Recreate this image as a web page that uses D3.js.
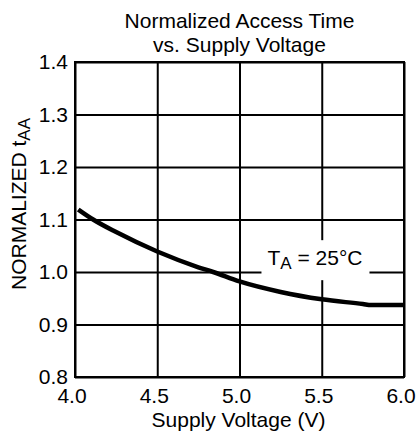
<!DOCTYPE html>
<html>
<head>
<meta charset="utf-8">
<script src="https://cdn.jsdelivr.net/npm/d3@7"></script>
<style>
  html, body { margin: 0; padding: 0; background: #fff; }
  svg { display: block; }
  text { font-family: "Liberation Sans", Arial, sans-serif; fill: #000; }
</style>
</head>
<body>
<svg id="chart" width="416" height="436"></svg>
<script>
// ---- data ----
const titleLines = ["Normalized Access Time", "vs. Supply Voltage"];
const xTicks = [4.0, 4.5, 5.0, 5.5, 6.0];
const yTicks = [0.8, 0.9, 1.0, 1.1, 1.2, 1.3, 1.4];
const voltage = [4.02, 4.11, 4.25, 4.5, 4.75, 4.84, 5.0, 5.25, 5.5, 5.75, 5.8, 6.0];
const accessTime = [1.119, 1.100, 1.076, 1.039, 1.009, 1.000, 0.982, 0.962, 0.948, 0.939, 0.937, 0.937];
const xLabel = "Supply Voltage (V)";
const yLabelMain = "NORMALIZED t";
const yLabelSub = "AA";
const annotation = { main: "T", sub: "A", rest: " = 25°C", x: 5.17, y: 1.013 };

// ---- layout ----
const svg = d3.select("#chart");
const margin = { left: 75, top: 62, right: 12, bottom: 59 };
const W = 416, H = 436;
const w = W - margin.left - margin.right;
const h = H - margin.top - margin.bottom;
const FS = 21, SUB = 17;

const x = d3.scaleLinear().domain([4.0, 6.0]).range([0, w]);
const y = d3.scaleLinear().domain([0.8, 1.4]).range([h, 0]);

const g = svg.append("g").attr("transform", `translate(${margin.left},${margin.top})`);

// gridlines
const gx = g.append("g").attr("transform", `translate(0,${h})`)
  .call(d3.axisBottom(x).tickValues(xTicks).tickSize(-h).tickFormat(""));
gx.select(".domain").remove();
gx.selectAll("line").attr("stroke", "#000").attr("stroke-width", 2);

const gy = g.append("g")
  .call(d3.axisLeft(y).tickValues(yTicks).tickSize(-w).tickFormat(""));
gy.select(".domain").remove();
gy.selectAll("line").attr("stroke", "#000").attr("stroke-width", 2);

// frame
g.append("rect").attr("x", 0).attr("y", 0).attr("width", w).attr("height", h)
  .attr("fill", "none").attr("stroke", "#000").attr("stroke-width", 2);

// tick labels
g.selectAll(".xt").data(xTicks).enter().append("text")
  .attr("x", d => x(d) - 3).attr("y", h + 26)
  .attr("text-anchor", "middle").attr("font-size", FS)
  .text(d => d.toFixed(1));
g.selectAll(".yt").data(yTicks).enter().append("text")
  .attr("x", -7).attr("y", d => y(d) + 7)
  .attr("text-anchor", "end").attr("font-size", FS)
  .text(d => d.toFixed(1));

// annotation with white background
const ax = x(annotation.x), ay = y(annotation.y);
g.append("rect").attr("x", ax - 6).attr("y", ay - 25).attr("width", 108).attr("height", 40)
  .attr("fill", "#fff");
const at = g.append("text").attr("x", ax).attr("y", ay).attr("font-size", FS);
at.append("tspan").text(annotation.main);
at.append("tspan").attr("font-size", SUB).attr("dy", 4).text(annotation.sub);
at.append("tspan").attr("dy", -4).text(annotation.rest);

// curve
const pts = voltage.map((v, i) => [v, accessTime[i]]);
g.append("path").datum(pts)
  .attr("fill", "none").attr("stroke", "#000").attr("stroke-width", 4.5)
  .attr("stroke-linejoin", "round")
  .attr("d", d3.line().x(d => x(d[0])).y(d => y(d[1])).curve(d3.curveMonotoneX));

// title
svg.selectAll(".title").data(titleLines).enter().append("text")
  .attr("x", margin.left + w / 2).attr("y", (d, i) => 28 + i * 24)
  .attr("text-anchor", "middle").attr("font-size", FS)
  .text(d => d);

// x label
svg.append("text").attr("x", margin.left + w / 2 - 1).attr("y", 427)
  .attr("text-anchor", "middle").attr("font-size", FS).text(xLabel);

// y label
const yl = svg.append("text").attr("transform", "translate(26,290) rotate(-90)")
  .attr("text-anchor", "start").attr("font-size", FS);
yl.append("tspan").text(yLabelMain);
yl.append("tspan").attr("font-size", SUB).attr("dy", 4).text(yLabelSub);
</script>
</body>
</html>
